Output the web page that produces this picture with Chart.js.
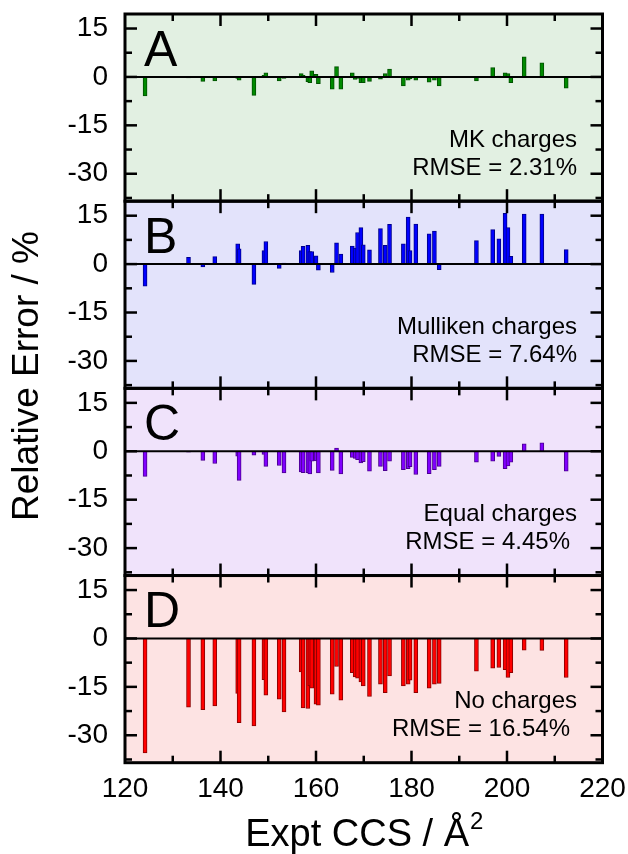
<!DOCTYPE html>
<html>
<head>
<meta charset="utf-8">
<script src="https://cdn.jsdelivr.net/npm/chart.js@4.4.0/dist/chart.umd.min.js"></script>
<style>
html,body{margin:0;padding:0;background:#fff;}
#wrap{width:628px;height:854px;position:relative;}
</style>
</head>
<body>
<div id="wrap"><canvas id="c"></canvas></div>
<script>
// ---- data ----
const ccs = [124.2,133.3,136.3,138.8,143.6,143.9,147.0,149.1,149.5,152.3,
             153.3,156.9,157.3,158.3,158.7,159.1,160.0,160.5,163.4,164.3,
             165.2,167.6,168.2,168.7,169.4,169.9,171.2,173.5,174.5,175.4,
             178.3,179.3,179.7,180.9,183.7,184.8,185.8,193.6,197.0,198.3,
             199.6,200.2,200.8,203.6,207.3,212.4];
const mkErr = [-5.9,-0.3,-1.4,-1.2,-0.5,-1.0,-5.7,0.5,1.3,-1.2,
               -0.5,1.0,0.5,-1.5,-1.8,1.9,0.8,-2.1,-3.8,3.2,
               -3.8,1.3,-0.8,-0.5,-1.8,-1.8,-1.4,-0.7,1.0,2.4,
               -2.8,-1.0,-0.6,-1.0,-1.6,-1.0,-2.8,-1.2,2.9,0.3,
               1.3,1.0,-1.8,6.2,4.4,-3.5];
const mullikenErr = [-6.8,2.1,-0.9,2.3,6.3,4.7,-6.3,4.2,7.0,-1.3,
                     0.3,4.2,5.5,5.8,3.9,3.9,2.6,-1.9,-2.6,6.6,
                     3.1,5.6,5.0,9.8,11.3,6.0,4.4,11.0,5.8,12.3,
                     6.3,14.6,4.2,12.4,9.4,10.2,-1.7,7.3,10.7,7.8,
                     15.7,11.3,2.4,15.5,15.5,4.5];
const equalErr = [-7.8,-0.3,-2.8,-3.8,-1.5,-9.0,-1.2,-1.0,-4.7,-4.4,
                  -6.7,-6.4,-6.6,-6.6,-7.0,-3.1,-3.0,-6.7,-5.9,1.0,
                  -7.0,-1.9,-2.2,-2.6,-3.6,-3.2,-6.2,-4.7,-6.0,-3.1,
                  -5.7,-5.4,-4.8,-7.2,-6.9,-5.7,-4.7,-3.4,-3.1,-1.6,
                  -5.4,-4.5,-3.4,2.3,2.6,-6.2];
const noChargeErr = [-35.5,-21.3,-22.1,-20.9,-17.0,-26.1,-27.1,-12.8,-17.6,-18.8,
                     -22.8,-10.4,-21.5,-21.7,-14.7,-15.4,-20.4,-20.7,-17.3,-8.7,
                     -19.1,-10.6,-11.9,-12.3,-13.5,-14.7,-18.0,-14.2,-16.8,-11.6,
                     -14.7,-14.2,-12.9,-16.8,-15.4,-14.2,-13.9,-10.1,-9.2,-9.0,
                     -9.7,-12.1,-10.6,-3.6,-3.7,-12.1];
const panelLetters = ['A','B','C','D'];
const methodLabels = ['MK charges','Mulliken charges','Equal charges','No charges'];
const rmseLabels = ['RMSE = 2.31%','RMSE = 7.64%','RMSE = 4.45%','RMSE = 16.54%'];
const yTickValues = [-30,-15,0,15];
const yMinorValues = [-37.5,-22.5,-7.5,7.5];
const xTitle = 'Expt CCS / Å';
const xTitleSup = '2';
const yTitle = 'Relative Error / %';

// ---- styles ----
const FONT = "'Liberation Sans', Arial, Helvetica, sans-serif";
const panelKeys = ['yA','yB','yC','yD'];
const panelBg = ['#e2f0e2','#e3e3fb','#f0e3fb','#fde3e3'];
const barFill = ['#008a00','#0000ff','#8000ff','#ff0000'];
const barEdge = ['#005000','#00008b','#4b0090','#8b0000'];
const noteRight = [[577,577],[577,577],[577,570],[577,570]];
const series = [mkErr, mullikenErr, equalErr, noChargeErr];

Chart.defaults.font.family = FONT;
Chart.defaults.color = '#000';

const datasets = series.map((vals, i) => ({
  type: 'bar',
  data: ccs.map((x, j) => ({x: x, y: vals[j]})),
  yAxisID: panelKeys[i],
  xAxisID: 'x',
  backgroundColor: barFill[i],
  borderColor: barEdge[i],
  borderWidth: 1,
  barThickness: 4,
  grouped: false
}));

function yScale(i) {
  return {
    type: 'linear',
    position: 'left',
    stack: 'panels',
    stackWeight: 1,
    weight: 4 - i,
    min: -38.5,
    max: 19.5,
    afterBuildTicks(s) { s.ticks = yTickValues.map(v => ({value: v})); },
    afterFit(s) { s.width = 125; s.paddingTop = 0; s.paddingBottom = 0; },
    ticks: {font: {size: 28, lineHeight: 1}, color: '#000', padding: 17},
    grid: {display: false, drawTicks: false},
    border: {display: false}
  };
}

const scales = {
  x: {
    type: 'linear',
    position: 'bottom',
    offset: false,
    min: 120, max: 220,
    ticks: {stepSize: 20, font: {size: 28, lineHeight: 1}, color: '#000', padding: 13, maxRotation: 0, autoSkip: false},
    grid: {display: false, drawTicks: false, offset: false},
    border: {display: false},
    afterFit(s) { s.height = 91.3; s.paddingLeft = 0; s.paddingRight = 0; }
  }
};
panelKeys.forEach((k, i) => { scales[k] = yScale(i); });

function line(ctx, x1, y1, x2, y2) {
  ctx.beginPath(); ctx.moveTo(x1, y1); ctx.lineTo(x2, y2); ctx.stroke();
}

const decor = {
  id: 'panelDecor',
  beforeDatasetsDraw(chart) {
    const {ctx, chartArea} = chart;
    ctx.save();
    panelKeys.forEach((k, i) => {
      const s = chart.scales[k];
      ctx.fillStyle = panelBg[i];
      ctx.fillRect(chartArea.left, s.top, chartArea.right - chartArea.left, s.bottom - s.top);
    });
    ctx.restore();
  },
  afterDatasetsDraw(chart) {
    const {ctx, chartArea} = chart;
    const xs = chart.scales.x;
    const L = chartArea.left, R = chartArea.right;
    ctx.save();
    ctx.strokeStyle = '#000';
    panelKeys.forEach((k, i) => {
      const s = chart.scales[k];
      const T = s.top, B = s.bottom;
      const y0 = s.getPixelForValue(0);
      ctx.lineWidth = 2;
      line(ctx, L, y0, R, y0);
      ctx.lineWidth = 2.5;
      for (let v = 130; v < 220; v += 10) {
        const px = xs.getPixelForValue(v);
        const len = (v % 20 === 0) ? 12 : 7;
        line(ctx, px, T, px, T + len);
        line(ctx, px, B, px, B - len);
      }
      yTickValues.concat(yMinorValues).forEach(v => {
        const py = s.getPixelForValue(v);
        const len = yTickValues.includes(v) ? 12 : 7;
        line(ctx, L, py, L + len, py);
        line(ctx, R, py, R - len, py);
      });
      ctx.lineWidth = 3;
      ctx.strokeRect(L, T, R - L, B - T);
      ctx.fillStyle = '#000';
      ctx.textBaseline = 'alphabetic';
      ctx.textAlign = 'left';
      ctx.font = '50px ' + FONT;
      ctx.fillText(panelLetters[i], L + 19, s.getPixelForValue(3.4));
      ctx.textAlign = 'right';
      ctx.font = '24px ' + FONT;
      ctx.fillText(methodLabels[i], noteRight[i][0], s.getPixelForValue(-21.6));
      ctx.fillText(rmseLabels[i], noteRight[i][1], s.getPixelForValue(-30.3));
    });
    ctx.restore();
  },
  afterDraw(chart) {
    const {ctx, chartArea} = chart;
    ctx.save();
    ctx.fillStyle = '#000';
    ctx.font = '37px ' + FONT;
    ctx.translate(28, 376);
    ctx.rotate(-Math.PI / 2);
    ctx.textAlign = 'center';
    ctx.textBaseline = 'middle';
    ctx.fillText(yTitle, 0, 0);
    ctx.restore();
    ctx.save();
    ctx.fillStyle = '#000';
    ctx.textBaseline = 'alphabetic';
    ctx.textAlign = 'left';
    ctx.font = '38px ' + FONT;
    const w1 = ctx.measureText(xTitle).width;
    ctx.font = '24px ' + FONT;
    const w2 = ctx.measureText(xTitleSup).width;
    const cx = (chartArea.left + chartArea.right) / 2;
    const x0 = cx - (w1 + w2) / 2;
    ctx.font = '38px ' + FONT;
    ctx.fillText(xTitle, x0, 846);
    ctx.font = '24px ' + FONT;
    ctx.fillText(xTitleSup, x0 + w1 + 1, 829);
    ctx.restore();
  }
};

new Chart(document.getElementById('c'), {
  type: 'bar',
  data: {datasets: datasets},
  options: {
    responsive: true,
    maintainAspectRatio: false,
    animation: false,
    devicePixelRatio: 1,
    layout: {padding: {left: 0, right: 25.5, top: 14, bottom: 0}},
    plugins: {legend: {display: false}, tooltip: {enabled: false}},
    events: [],
    scales: scales
  },
  plugins: [decor]
});
</script>
</body>
</html>
